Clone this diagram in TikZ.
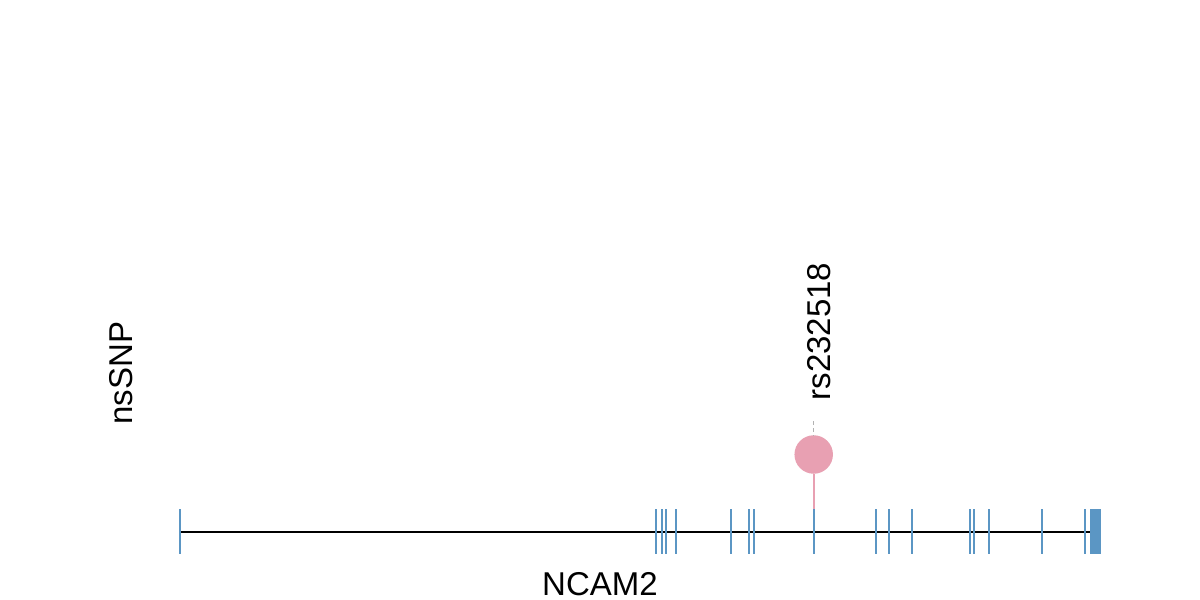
\documentclass[tikz,border=0pt]{standalone}
\usepackage{fontspec}
\setmainfont{Liberation Sans}
\definecolor{exonblue}{RGB}{91,150,196}
\definecolor{snppink}{RGB}{232,160,178}
\begin{document}
\begin{tikzpicture}[x=1pt,y=-1pt,
  exon/.style={draw=exonblue,line width=2pt},
  lbl/.style={inner sep=0pt,font=\fontsize{33}{38}\selectfont},
]
\useasboundingbox (0,0) rectangle (1200,600);
% gene backbone
\coordinate (gs) at (180,531.5);
\coordinate (ge) at (1090,531.5);
\draw[line width=2pt] (gs) -- (ge);
% exons
\foreach \x in {180,656,662,666,676,730.5,749,754,814,875.5,889,912,970,974,988.5,1042,1085}{
  \draw[exon] (\x,509) -- (\x,554);
}
\fill[exonblue] (1090,509) rectangle (1101,554);
% SNP
\node[circle,fill=snppink,minimum size=38.5pt,inner sep=0pt] (snp) at (813.7,454.5) {};
\coordinate (pinbase) at (813.7,509);
\draw[snppink,line width=2pt] (snp.south) -- (pinbase);
\coordinate (dtop) at (813.7,421);
\draw[gray!60,line width=1.5pt,dash pattern=on 4pt off 3pt] (dtop) -- (snp.north);
\node[lbl,rotate=90,anchor=west] (rs) at (819.5,400.5) {rs232518};
% labels
\node[lbl,rotate=90] (ns) at (121,373) {nsSNP};
\node[lbl,anchor=base] (gene) at (600,595) {NCAM2};
\end{tikzpicture}
\end{document}
